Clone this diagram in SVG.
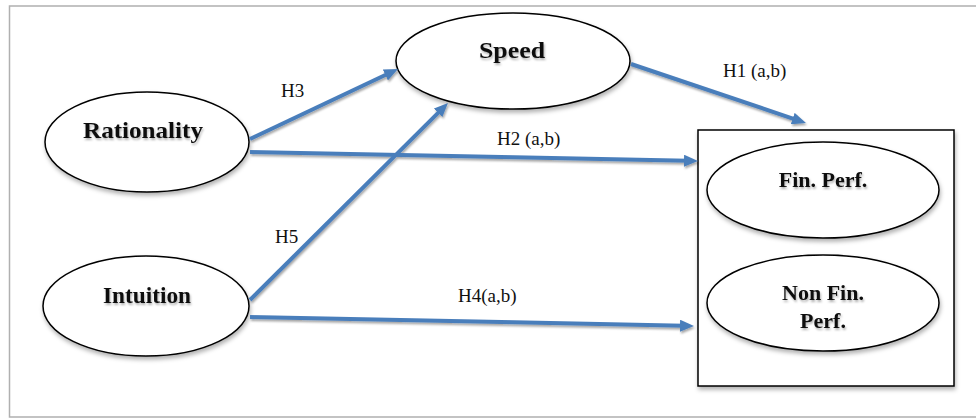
<svg xmlns="http://www.w3.org/2000/svg" width="976" height="419" viewBox="0 0 976 419">
  <defs>
    <filter id="shadow" x="-20%" y="-20%" width="140%" height="150%">
      <feDropShadow dx="1" dy="3" stdDeviation="2" flood-color="#000" flood-opacity="0.3"/>
    </filter>
    <filter id="lshadow" x="-5%" y="-30%" width="110%" height="160%">
      <feDropShadow dx="1" dy="2" stdDeviation="1.2" flood-color="#000" flood-opacity="0.35"/>
    </filter>
    <filter id="tshadow" x="-10%" y="-30%" width="120%" height="160%">
      <feDropShadow dx="1" dy="2" stdDeviation="1.2" flood-color="#000" flood-opacity="0.3"/>
    </filter>
    <marker id="arrow" markerUnits="userSpaceOnUse" markerWidth="14" markerHeight="12" refX="4" refY="6" orient="auto">
      <path d="M0,0 L14,6 L0,12 z" fill="#4a7ebb"/>
    </marker>
  </defs>
  <style>
    .node { fill: #ffffff; stroke: #000000; stroke-width: 1.5; }
    .box { fill: #ffffff; stroke: #000000; stroke-width: 1.5; }
    .lbl { font-family: "Liberation Serif", "Times New Roman", serif; font-weight: bold; font-size: 22px; fill: #111; text-anchor: middle; }
    .big { font-size: 24px; }
    .hyp { font-family: "Liberation Serif", "Times New Roman", serif; font-size: 19px; fill: #111; }
    .edge { stroke: #4a7ebb; stroke-width: 4; fill: none; marker-end: url(#arrow); }
  </style>
  <rect x="0" y="0" width="976" height="419" fill="#ffffff"/>
  <path d="M976,6 H9.5 V417 H976" fill="none" stroke="#b0b0b0" stroke-width="1.5"/>

  <g id="outcome-box">
    <rect class="box" x="698" y="130" width="256" height="256" filter="url(#shadow)"/>
  </g>

  <g id="node-speed">
    <ellipse class="node" cx="513" cy="61" rx="117" ry="48" filter="url(#shadow)"/>
    <text class="lbl big" x="512" y="58" filter="url(#tshadow)" textLength="66" lengthAdjust="spacingAndGlyphs">Speed</text>
  </g>
  <g id="node-rationality">
    <ellipse class="node" cx="147" cy="142" rx="102" ry="50" filter="url(#shadow)"/>
    <text class="lbl big" x="143" y="138" filter="url(#tshadow)" textLength="120" lengthAdjust="spacingAndGlyphs">Rationality</text>
  </g>
  <g id="node-intuition">
    <ellipse class="node" cx="146" cy="306" rx="103" ry="50" filter="url(#shadow)"/>
    <text class="lbl big" x="147" y="303" filter="url(#tshadow)" textLength="88" lengthAdjust="spacingAndGlyphs">Intuition</text>
  </g>
  <g id="node-finperf">
    <ellipse class="node" cx="823" cy="190" rx="116" ry="48" filter="url(#shadow)"/>
    <text class="lbl" x="823" y="187" filter="url(#tshadow)">Fin. Perf.</text>
  </g>
  <g id="node-nonfinperf">
    <ellipse class="node" cx="823" cy="303" rx="116" ry="48" filter="url(#shadow)"/>
    <text class="lbl" x="823" y="300" filter="url(#tshadow)">Non Fin.</text>
    <text class="lbl" x="823" y="328" filter="url(#tshadow)">Perf.</text>
  </g>

  <g id="connectors" filter="url(#lshadow)">
    <line class="edge" x1="250" y1="139" x2="389" y2="73.3"/>
    <line class="edge" x1="250" y1="300" x2="440.9" y2="110.1"/>
    <line class="edge" x1="631" y1="64" x2="796.5" y2="119.8"/>
    <line class="edge" x1="250" y1="152" x2="688" y2="160.8"/>
    <line class="edge" x1="250" y1="317" x2="684" y2="325.8"/>
  </g>

  <g id="labels">
    <text class="hyp" x="281" y="97">H3</text>
    <text class="hyp" x="723" y="77">H1 (a,b)</text>
    <text class="hyp" x="497" y="145">H2 (a,b)</text>
    <text class="hyp" x="275" y="243">H5</text>
    <text class="hyp" x="458" y="302">H4(a,b)</text>
  </g>
</svg>
